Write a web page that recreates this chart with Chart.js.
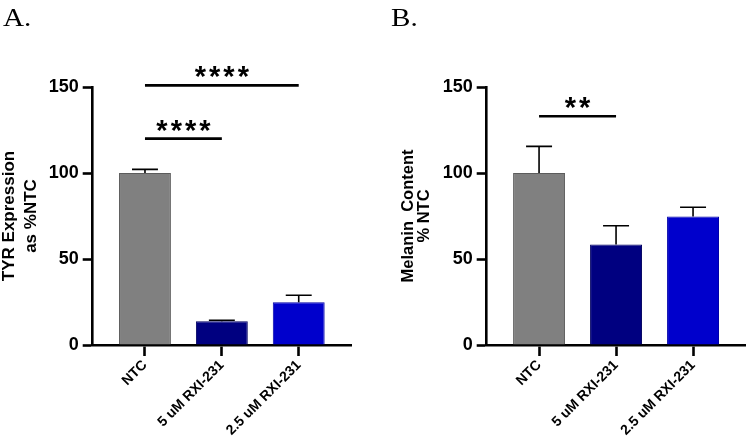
<!DOCTYPE html>
<html><head><meta charset="utf-8">
<script src="https://cdn.jsdelivr.net/npm/chart.js@4"></script>
<style>
body{margin:0;background:#fff;width:750px;height:443px;overflow:hidden;position:relative;font-family:"Liberation Sans",Arial,sans-serif}
.panel{position:absolute;top:0;width:375px;height:443px}
#wa{left:0}#wb{left:375px}
.tag{position:absolute;font-family:"Liberation Serif","Times New Roman",serif;font-size:26px;line-height:26px;top:5px;transform:scaleX(1.12);transform-origin:left top;color:#000}
</style></head><body>
<div class="panel" id="wa"><canvas id="ca" width="375" height="443"></canvas></div>
<div class="panel" id="wb"><canvas id="cb" width="375" height="443"></canvas></div>
<div class="tag" style="left:3px">A.</div>
<div class="tag" style="left:391px">B.</div>
<script>
const categories = ['NTC', '5 uM RXI-231', '2.5 uM RXI-231'];
const tyrMean = [100, 13.8, 24.8];
const tyrErr = [2.1, 0.6, 4.1];
const melMean = [100, 58.5, 74.7];
const melErr = [15.5, 10.8, 5.4];
const yTicks = [0, 50, 100, 150];
const tyrSig = [{from: 0, to: 2, y: 151, label: '****'}, {from: 0, to: 1, y: 120, label: '****'}];
const melSig = [{from: 0, to: 1, y: 133, label: '**'}];
const barColors = ['#808080', '#000080', '#0000CC'];
const barBorders = ['#5c5c5c', '#000060', '#0000a8'];

Chart.defaults.font.family = '"Liberation Sans", Arial, sans-serif';

const annot = {
  id: 'annot',
  afterDatasetsDraw(chart, args, opts) {
    const ctx = chart.ctx, meta = chart.getDatasetMeta(0);
    const ys = chart.scales.y, xs = chart.scales.x;
    ctx.save();
    ctx.strokeStyle = '#000';
    ctx.fillStyle = '#000';
    ctx.lineWidth = 1.6;
    meta.data.forEach((bar, i) => {
      const v = opts.means[i], e = opts.errs[i];
      const y0 = ys.getPixelForValue(v), y1 = ys.getPixelForValue(v + e);
      const hw = bar.width * 0.25;
      ctx.beginPath();
      ctx.moveTo(bar.x, y0); ctx.lineTo(bar.x, y1);
      ctx.moveTo(bar.x - hw, y1); ctx.lineTo(bar.x + hw, y1);
      ctx.stroke();
    });
    ctx.lineWidth = 2.7;
    opts.sig.forEach(s => {
      const xa = xs.getPixelForValue(s.from), xb = xs.getPixelForValue(s.to), y = ys.getPixelForValue(s.y);
      ctx.beginPath(); ctx.moveTo(xa, y); ctx.lineTo(xb, y); ctx.stroke();
      ctx.font = 'bold 29px "Liberation Sans", Arial, sans-serif';
      ctx.textAlign = 'center';
      ctx.textBaseline = 'alphabetic';
      ctx.letterSpacing = '3px';
      ctx.fillText(s.label, (xa + xb) / 2 + 1.5, y + 1);
    });
    ctx.restore();
  }
};

function makeChart(id, means, errs, sig, title, o) {
  return new Chart(document.getElementById(id), {
    type: 'bar',
    data: {
      datasets: [{
        data: means.map((v, i) => ({x: i, y: v})),
        backgroundColor: barColors,
        borderColor: barBorders,
        borderWidth: 1,
        barPercentage: 0.675,
        categoryPercentage: 1
      }]
    },
    options: {
      responsive: false, animation: false, devicePixelRatio: 1,
      layout: {padding: {top: 87, right: o.padRight, left: 0, bottom: 0}},
      plugins: {legend: {display: false}, tooltip: {enabled: false}, annot: {means, errs, sig}},
      scales: {
        x: {
          type: 'linear', min: -0.68, max: 2.68, offset: false,
          afterBuildTicks: s => { s.ticks = categories.map((c, i) => ({value: i})); },
          afterFit: s => { s.height = 98; },
          grid: {offset: false, drawOnChartArea: false, drawTicks: true, tickLength: 11, tickWidth: 2.6, tickColor: '#000'},
          border: {display: true, color: '#000', width: 2.6},
          ticks: {callback: v => categories[v], minRotation: 45, maxRotation: 45, autoSkip: false, padding: 1,
                  color: '#000', font: {weight: 'bold', size: 14}}
        },
        y: {
          min: 0, max: 150,
          afterBuildTicks: s => { s.ticks = yTicks.map(v => ({value: v})); },
          afterFit: s => { s.width = o.yWidth; },
          grid: {drawOnChartArea: false, drawTicks: true, tickLength: 10, tickWidth: 2.6, tickColor: '#000'},
          border: {display: true, color: '#000', width: 2.6},
          ticks: {padding: 4, color: '#000', font: {weight: 'bold', size: 18}},
          title: {display: true, text: title, color: '#000',
                  font: {weight: 'bold', size: o.titleSize, lineHeight: o.titleLH}, padding: {top: o.titlePad, bottom: 0}}
        }
      }
    },
    plugins: [annot]
  });
}

makeChart('ca', tyrMean, tyrErr, tyrSig, ['TYR Expression', 'as %NTC'], {padRight: 24, yWidth: 92.7, titleSize: 17, titleLH: 1.25, titlePad: -1});
makeChart('cb', melMean, melErr, melSig, ['Melanin  Content', '% NTC'], {padRight: 4.6, yWidth: 111.7, titleSize: 16.5, titleLH: 1.0, titlePad: 25});
</script>
</body></html>
